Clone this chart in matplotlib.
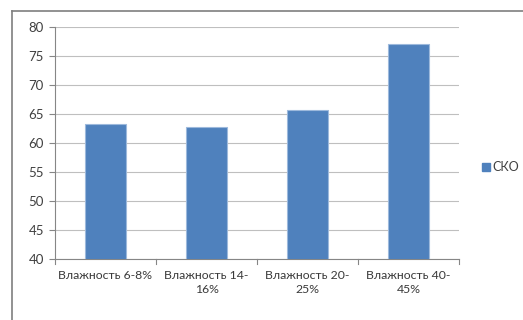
import matplotlib
matplotlib.use('Agg')
import matplotlib.pyplot as plt
from matplotlib.lines import Line2D

categories = ['Влажность 6-8%', 'Влажность 14-\n16%', 'Влажность 20-\n25%', 'Влажность 40-\n45%']
values = [63.2, 62.8, 65.7, 77.1]
yticks = [40, 45, 50, 55, 60, 65, 70, 75, 80]
series_name = 'СКО'

plt.rcParams['font.family'] = ['Lato', 'DejaVu Sans']

W, H = 523, 320
fig = plt.figure(figsize=(W / 100, H / 100), dpi=100)
ax = fig.add_axes([55 / W, 1 - 259 / H, (459 - 55) / W, (259 - 27) / H])

x = list(range(len(categories)))
ax.bar(x, values, width=0.4, color='#4F81BD', edgecolor='#9DB9DC', linewidth=0.8, zorder=3)

ax.set_xlim(-0.5, len(categories) - 0.5)
ax.set_ylim(40, 80)
ax.set_yticks(yticks)
ax.set_yticklabels([str(v) for v in yticks], fontsize=9.5, color='#404040')
ax.yaxis.grid(True, color='#BFBFBF', linewidth=0.8, zorder=0)

ax.set_xticks(x)
ax.set_xticklabels(categories, fontsize=8.8, color='#3A3A3A', linespacing=1.35)
ax.tick_params(axis='x', length=0, pad=8)
ax.tick_params(axis='y', length=4, color='#868686', pad=4)
# boundary ticks between categories
for b in [i - 0.5 for i in range(len(categories) + 1)]:
    ax.plot([b, b], [0, -0.02], transform=ax.get_xaxis_transform(), color='#868686',
            linewidth=0.8, clip_on=False)

for s in ['top', 'right']:
    ax.spines[s].set_visible(False)
for s in ['left', 'bottom']:
    ax.spines[s].set_color('#868686')
    ax.spines[s].set_linewidth(0.8)

handle = Line2D([], [], marker='s', linestyle='none', markersize=5.5,
                markerfacecolor='#4F81BD', markeredgecolor='#4F81BD')
fig.legend([handle], [series_name], loc='center left', bbox_to_anchor=(482 / W, 1 - 167 / H),
           frameon=False, fontsize=9, handletextpad=0.2, handlelength=0.6,
           borderpad=0, borderaxespad=0, labelcolor='#404040')

# outer chart border (left and top visible)
fig.add_artist(Line2D([11.5 / W, 11.5 / W], [0, 1 - 10.5 / H], color='#7F7F7F', linewidth=1.2))
fig.add_artist(Line2D([11.5 / W, 1], [1 - 10.5 / H, 1 - 10.5 / H], color='#7F7F7F', linewidth=1.2))

fig.savefig('out.png', dpi=100)
